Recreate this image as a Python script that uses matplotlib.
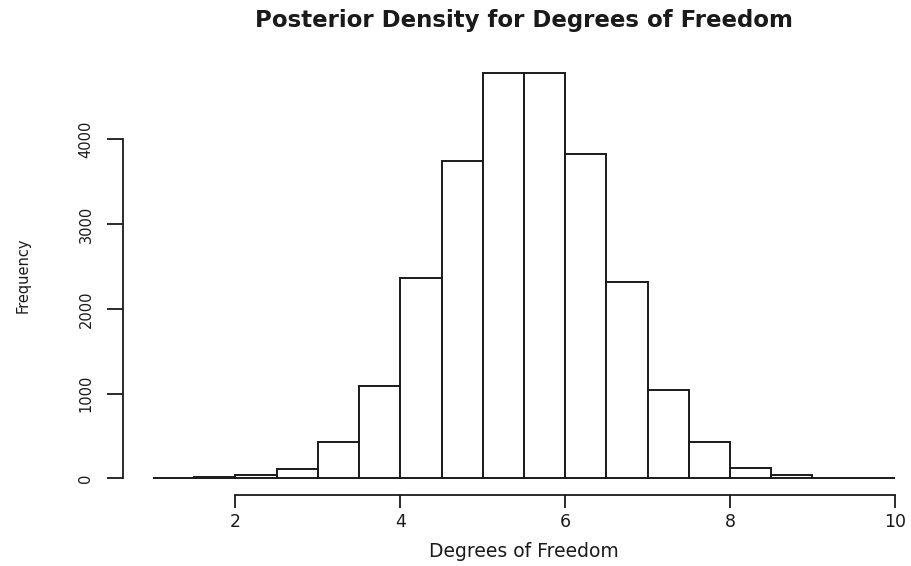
import numpy as np
import matplotlib
matplotlib.use('Agg')
import matplotlib.pyplot as plt

# 直方图的分箱边界和每个分箱的频数
binEdges = np.arange(1.0, 10.01, 0.5)
binCounts = [2, 12, 35, 110, 432, 1089, 2360, 3744, 4786,
             4786, 3830, 2320, 1042, 432, 125, 35, 5, 1]
xTicks = [2, 4, 6, 8, 10]
yTicks = [0, 1000, 2000, 3000, 4000]

titleText = 'Posterior Density for Degrees of Freedom'
xLabelText = 'Degrees of Freedom'
yLabelText = 'Frequency'

plt.rcParams['font.family'] = ['DejaVu Sans']

fig = plt.figure(figsize=(9.12, 5.66), dpi=100)
ax = fig.add_axes([0.1352, 0.1263, 0.8786, 0.7739])

# R 风格的直方图：白色填充，黑色边框
widths = np.diff(binEdges)
ax.bar(binEdges[:-1], binCounts, width=widths, align='edge',
       color='white', edgecolor='#1a1a1a', linewidth=1.4)

ymax = max(binCounts)
ax.set_xlim(binEdges[0] - 0.04 * (binEdges[-1] - binEdges[0]),
            binEdges[-1] + 0.04 * (binEdges[-1] - binEdges[0]))
ax.set_ylim(-0.04 * ymax, 1.04 * ymax)

for side in ['top', 'right']:
    ax.spines[side].set_visible(False)
ax.spines['left'].set_bounds(yTicks[0], yTicks[-1])
ax.spines['bottom'].set_bounds(xTicks[0], xTicks[-1])
for side in ['left', 'bottom']:
    ax.spines[side].set_linewidth(1.3)
    ax.spines[side].set_color('#1a1a1a')

ax.set_xticks(xTicks)
ax.set_xticklabels([str(t) for t in xTicks], fontsize=12.5, color='#1a1a1a')
ax.set_yticks(yTicks)
ax.set_yticklabels([str(t) for t in yTicks], fontsize=10.5, color='#1a1a1a',
                   rotation=90, va='center')
ax.tick_params(axis='x', length=9.4, width=1.3, pad=4, color='#1a1a1a')
ax.tick_params(axis='y', length=11.5, width=1.3, pad=10, color='#1a1a1a')

# 标题：用 ax.text 放在绘图区中央上方
ax.text(0.5, 1.083, titleText, transform=ax.transAxes, ha='center', va='center',
        fontsize=16.5, fontweight='bold', color='#1a1a1a')
ax.set_xlabel(xLabelText, fontsize=13.5, color='#1a1a1a')
ax.xaxis.set_label_coords(0.5, -0.129)
ax.set_ylabel(yLabelText, fontsize=10.5, color='#1a1a1a')
ax.yaxis.set_label_coords(-0.125, 0.5)
ax.yaxis.label.set_va('center')
ax.xaxis.label.set_va('center')

fig.savefig('out.png', dpi=100)
